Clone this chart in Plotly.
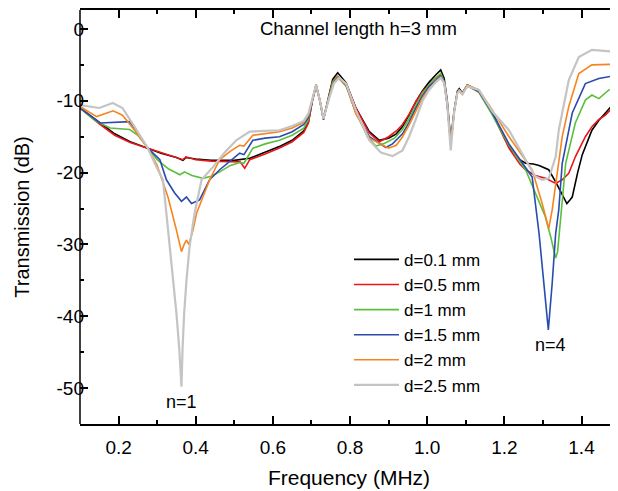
import plotly.graph_objects as go

# ---- data: (frequency MHz, transmission dB) ----
series_names = ["d=0.1 mm", "d=0.5 mm", "d=1 mm", "d=1.5 mm", "d=2 mm", "d=2.5 mm"]

trans_d01 = [(0.10,-11.0),(0.15,-13.0),(0.19,-14.6),(0.23,-15.7),(0.276,-16.6),(0.31,-17.3),(0.35,-17.9),
    (0.367,-18.3),(0.375,-17.9),(0.40,-18.1),(0.44,-18.3),(0.50,-18.3),(0.54,-18.0),(0.58,-17.2),(0.62,-16.3),
    (0.65,-15.5),(0.68,-14.2),(0.692,-13.0),(0.702,-10.0),(0.712,-7.8),(0.722,-10.0),(0.731,-12.6),(0.745,-9.5),
    (0.755,-7.0),(0.768,-6.1),(0.79,-7.5),(0.815,-11.0),(0.85,-14.3),(0.876,-15.5),(0.90,-15.2),(0.92,-14.6),
    (0.936,-13.6),(0.953,-12.0),(0.971,-10.1),(0.988,-8.6),(1.005,-7.4),(1.022,-6.4),(1.035,-5.7),(1.044,-6.9),
    (1.052,-10.0),(1.061,-15.5),(1.07,-11.3),(1.078,-8.7),(1.083,-8.3),(1.091,-8.9),(1.104,-7.8),(1.134,-8.6),
    (1.169,-11.7),(1.212,-16.4),(1.24,-18.2),(1.255,-18.7),(1.275,-18.8),(1.29,-19.0),(1.315,-19.6),(1.333,-21.3),
    (1.35,-23.0),(1.362,-24.3),(1.37,-23.8),(1.376,-23.4),(1.39,-20.0),(1.402,-17.5),(1.427,-14.1),(1.445,-12.7),
    (1.462,-11.7),(1.48,-10.6),(1.495,-10.1)]

trans_d05 = [(0.10,-11.0),(0.15,-13.2),(0.19,-14.8),(0.23,-15.8),(0.276,-16.6),(0.31,-17.2),(0.35,-17.8),
    (0.367,-18.2),(0.375,-17.8),(0.40,-18.2),(0.44,-18.4),(0.50,-18.4),(0.515,-18.5),(0.527,-19.4),(0.54,-18.2),
    (0.58,-17.4),(0.62,-16.5),(0.65,-15.7),(0.68,-14.4),(0.692,-13.1),(0.702,-10.1),(0.712,-7.9),(0.722,-10.1),
    (0.731,-12.6),(0.745,-9.6),(0.755,-7.3),(0.768,-6.6),(0.79,-7.7),(0.815,-11.0),(0.85,-14.5),(0.876,-15.7),
    (0.90,-15.0),(0.92,-14.2),(0.936,-13.3),(0.953,-11.9),(0.971,-10.1),(0.988,-8.7),(1.005,-7.8),(1.022,-6.9),
    (1.035,-6.4),(1.044,-7.4),(1.052,-10.5),(1.061,-16.0),(1.07,-11.5),(1.078,-8.9),(1.083,-8.6),(1.091,-9.1),
    (1.104,-7.9),(1.134,-8.8),(1.169,-11.8),(1.212,-16.6),(1.24,-18.8),(1.255,-19.6),(1.28,-20.4),(1.307,-20.8),
    (1.333,-21.5),(1.35,-21.0),(1.367,-20.1),(1.384,-17.8),(1.41,-15.0),(1.427,-13.6),(1.445,-12.6),(1.462,-12.0),
    (1.48,-11.0),(1.495,-10.5)]

trans_d1 = [(0.10,-11.0),(0.14,-12.8),(0.178,-13.8),(0.229,-14.0),(0.25,-14.8),(0.276,-16.6),(0.30,-18.2),
    (0.33,-19.5),(0.359,-20.3),(0.371,-19.9),(0.39,-20.4),(0.419,-20.8),(0.44,-20.5),(0.462,-19.9),(0.49,-19.0),
    (0.514,-18.6),(0.525,-18.7),(0.548,-16.6),(0.58,-16.0),(0.617,-15.5),(0.65,-14.8),(0.68,-13.8),(0.692,-12.6),
    (0.702,-9.9),(0.712,-7.8),(0.722,-10.0),(0.731,-12.5),(0.745,-9.6),(0.755,-7.4),(0.768,-6.7),(0.79,-8.0),
    (0.815,-11.5),(0.845,-15.0),(0.867,-16.3),(0.89,-15.9),(0.915,-15.2),(0.936,-14.0),(0.953,-12.5),(0.971,-10.6),
    (0.988,-8.9),(1.005,-7.8),(1.022,-6.8),(1.035,-6.2),(1.044,-7.3),(1.052,-10.5),(1.061,-16.0),(1.07,-11.5),
    (1.078,-8.9),(1.083,-8.6),(1.091,-9.1),(1.104,-7.9),(1.134,-8.8),(1.169,-12.0),(1.212,-16.2),(1.255,-19.6),
    (1.281,-22.9),(1.306,-26.1),(1.32,-28.9),(1.333,-31.9),(1.338,-31.0),(1.346,-26.1),(1.359,-18.7),
    (1.384,-13.1),(1.41,-9.9),(1.427,-9.2),(1.445,-9.7),(1.471,-8.5),(1.495,-8.2)]

trans_d15 = [(0.10,-11.0),(0.152,-13.1),(0.229,-12.9),(0.25,-14.5),(0.276,-16.6),(0.307,-18.2),(0.324,-21.0),
    (0.345,-22.8),(0.363,-24.0),(0.376,-23.4),(0.389,-24.3),(0.41,-23.8),(0.436,-21.0),(0.462,-19.6),(0.49,-18.3),
    (0.514,-17.3),(0.525,-17.5),(0.548,-15.5),(0.58,-15.2),(0.617,-15.0),(0.65,-14.3),(0.68,-13.3),(0.692,-12.3),
    (0.702,-9.8),(0.712,-7.8),(0.722,-10.0),(0.731,-12.5),(0.745,-9.7),(0.757,-7.5),(0.77,-6.8),(0.79,-7.8),
    (0.815,-11.7),(0.85,-15.0),(0.893,-16.5),(0.91,-16.0),(0.936,-14.6),(0.953,-13.0),(0.971,-11.0),(0.988,-9.3),
    (1.005,-8.0),(1.022,-7.2),(1.035,-6.6),(1.044,-7.4),(1.052,-10.5),(1.061,-16.0),(1.07,-11.5),(1.078,-8.9),
    (1.083,-8.5),(1.091,-9.0),(1.104,-7.8),(1.134,-8.7),(1.169,-11.7),(1.212,-16.0),(1.255,-19.2),(1.272,-20.6),
    (1.29,-28.5),(1.302,-35.4),(1.314,-41.9),(1.324,-35.4),(1.333,-28.5),(1.341,-25.2),(1.35,-18.7),
    (1.376,-11.7),(1.41,-7.6),(1.445,-6.9),(1.47,-6.6),(1.495,-6.4)]

trans_d2 = [(0.10,-10.8),(0.143,-12.2),(0.186,-11.4),(0.21,-12.0),(0.24,-14.0),(0.276,-16.6),(0.30,-19.0),
    (0.328,-23.4),(0.35,-28.0),(0.363,-31.0),(0.37,-30.0),(0.376,-29.4),(0.382,-30.0),(0.393,-28.0),(0.402,-25.7),
    (0.419,-23.4),(0.436,-21.0),(0.462,-18.2),(0.49,-17.0),(0.514,-16.2),(0.525,-16.3),(0.548,-14.8),(0.58,-14.6),
    (0.617,-14.3),(0.65,-13.8),(0.68,-13.0),(0.692,-12.0),(0.702,-9.7),(0.712,-7.8),(0.722,-10.0),(0.731,-12.5),
    (0.745,-9.7),(0.757,-7.6),(0.77,-6.8),(0.79,-7.8),(0.815,-11.8),(0.85,-15.2),(0.90,-16.6),(0.92,-16.2),
    (0.936,-15.0),(0.953,-13.4),(0.971,-11.4),(0.988,-9.6),(1.005,-8.3),(1.022,-7.4),(1.035,-6.8),(1.044,-7.5),
    (1.052,-10.5),(1.061,-16.0),(1.07,-11.5),(1.078,-8.9),(1.083,-8.5),(1.091,-9.0),(1.104,-7.8),(1.134,-8.5),
    (1.169,-11.3),(1.212,-15.0),(1.255,-18.2),(1.272,-19.6),(1.298,-24.3),(1.315,-27.8),(1.324,-25.2),
    (1.333,-21.5),(1.35,-15.0),(1.367,-10.8),(1.393,-6.2),(1.427,-5.0),(1.46,-4.9),(1.495,-4.9)]

trans_d25 = [(0.10,-10.6),(0.15,-11.0),(0.185,-10.3),(0.21,-11.0),(0.24,-13.5),(0.276,-16.6),(0.298,-19.2),
    (0.315,-21.0),(0.324,-25.7),(0.333,-30.3),(0.341,-35.0),(0.350,-39.6),(0.357,-44.3),(0.363,-49.8),
    (0.366,-44.3),(0.370,-39.6),(0.376,-35.0),(0.384,-30.3),(0.397,-25.7),(0.415,-21.0),(0.445,-19.2),
    (0.475,-17.2),(0.505,-15.5),(0.54,-14.3),(0.58,-14.2),(0.617,-14.1),(0.65,-13.5),(0.68,-12.8),(0.692,-11.8),
    (0.702,-9.7),(0.712,-7.8),(0.722,-10.0),(0.731,-12.5),(0.745,-9.8),(0.758,-7.6),(0.772,-6.8),(0.79,-7.6),
    (0.815,-11.3),(0.85,-15.5),(0.88,-17.2),(0.91,-17.7),(0.936,-16.9),(0.953,-15.0),(0.971,-12.5),(0.988,-10.0),
    (1.005,-8.5),(1.022,-7.4),(1.035,-6.8),(1.044,-7.5),(1.052,-10.5),(1.061,-16.9),(1.07,-11.5),(1.078,-9.0),
    (1.083,-8.6),(1.091,-9.1),(1.104,-8.0),(1.134,-8.5),(1.169,-11.5),(1.212,-14.1),(1.255,-18.2),(1.28,-20.5),
    (1.298,-21.0),(1.315,-20.8),(1.333,-17.8),(1.341,-14.1),(1.367,-7.1),(1.393,-3.9),(1.427,-2.9),(1.46,-3.0),
    (1.495,-3.2)]

series_data = [trans_d01, trans_d05, trans_d1, trans_d15, trans_d2, trans_d25]
series_colors = ["#000000", "#e8161b", "#5cbf3c", "#2a4bb0", "#f7841e", "#c4c4c4"]
series_widths = [1.6, 1.6, 1.6, 1.6, 1.6, 2.2]

x_ticks = [0.2, 0.4, 0.6, 0.8, 1.0, 1.2, 1.4]
x_tick_labels = ["0.2", "0.4", "0.6", "0.8", "1.0", "1.2", "1.4"]
y_ticks = [0, -10, -20, -30, -40, -50]
y_tick_labels = ["0", "-10", "-20", "-30", "-40", "-50"]

FONT = "Arial, Liberation Sans, Helvetica, sans-serif"

fig = go.Figure()
for name, pts, col, w in zip(series_names, series_data, series_colors, series_widths):
    fig.add_trace(go.Scatter(
        x=[p[0] for p in pts], y=[p[1] for p in pts], mode="lines", name=name,
        line=dict(color=col, width=w)))

axis_common = dict(
    showgrid=False, zeroline=False, ticks="inside", ticklen=8, tickwidth=1.5, automargin=False,
    tickcolor="black", tickfont=dict(family=FONT, size=19, color="black"),
)

# the page body has an 8 px default margin, so the figure is 8 px smaller than the window
fig.update_layout(
    width=610, height=483,
    margin=dict(l=72, r=0, t=2, b=67, autoexpand=False),
    paper_bgcolor="white", plot_bgcolor="white",
    font=dict(family=FONT, color="black"),
    xaxis=dict(range=[0.1, 1.4946], tickvals=x_ticks, ticktext=x_tick_labels,
               showline=True, linecolor="black", linewidth=1.5, mirror="ticks",
               ticklabelstandoff=5,
               minor=dict(dtick=0.1, tick0=0.1, ticks="inside", ticklen=4, tickwidth=1.5, tickcolor="black"),
               title=dict(text="Frequency (MHz)", font=dict(family=FONT, size=21), standoff=14),
               **axis_common),
    yaxis=dict(range=[-55, 2.64], tickvals=y_ticks, ticktext=y_tick_labels,
               showline=False, mirror="ticks", ticklabelstandoff=-5,
               minor=dict(dtick=5, tick0=0, ticks="inside", ticklen=4, tickwidth=1.5, tickcolor="black"),
               title=dict(text="Transmission (dB)", font=dict(family=FONT, size=20), standoff=21),
               **axis_common),
    legend=dict(x=0.50, y=0.44, xanchor="left", yanchor="top", bgcolor="rgba(0,0,0,0)",
                font=dict(family=FONT, size=17), itemwidth=45, tracegroupgap=0),
    showlegend=True,
)

fig.add_shape(type="line", xref="paper", yref="paper", x0=0, x1=0, y0=0, y1=1,
              line=dict(color="black", width=1.5))

fig.add_annotation(text="Channel length h=3 mm", xref="x", yref="y", x=0.823, y=0.1,
                   showarrow=False, font=dict(family=FONT, size=18.5), yanchor="middle")
fig.add_annotation(text="n=1", xref="x", yref="y", x=0.3637, y=-51.9, showarrow=False,
                   font=dict(family=FONT, size=18), yanchor="middle")
fig.add_annotation(text="n=4", xref="x", yref="y", x=1.319, y=-44.0, showarrow=False,
                   font=dict(family=FONT, size=18), yanchor="middle")

fig.write_html("out.html")
